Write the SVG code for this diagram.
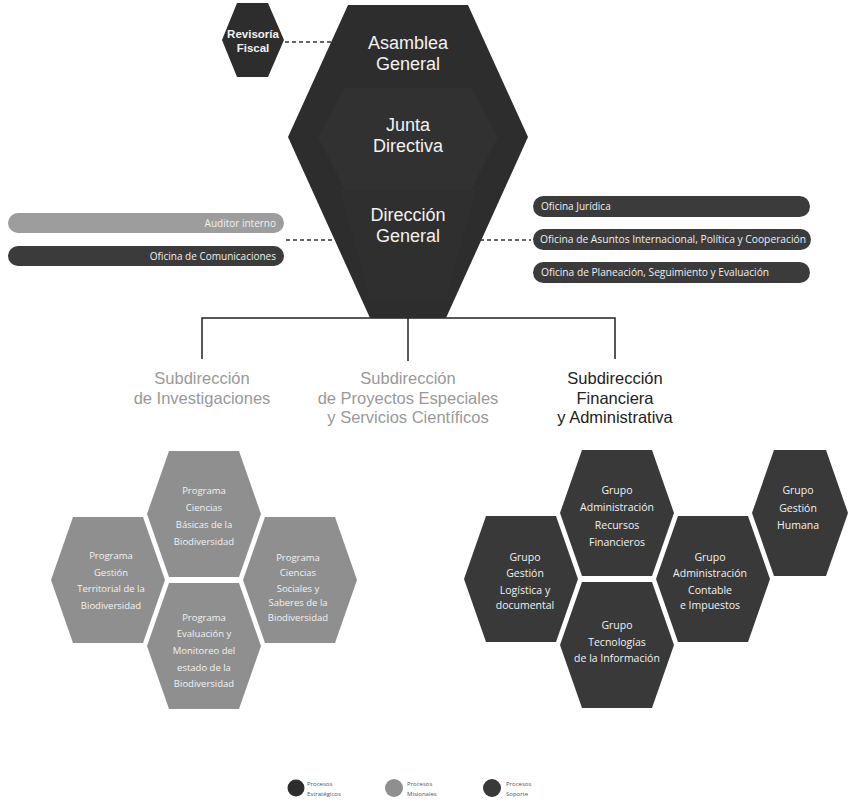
<svg xmlns="http://www.w3.org/2000/svg" width="848" height="805" viewBox="0 0 848 805">
<style>
.bg{fill:#ffffff}
.strat{fill:#2d2d2d}
.mis{fill:#8f8f8f}
.sop{fill:#393939}
.big{font-family:"Liberation Sans","Arial",sans-serif;font-size:18px;fill:#f2f2f2;text-anchor:middle}
.rev{font-family:"Liberation Sans","Arial",sans-serif;font-size:11.5px;font-weight:bold;fill:#f2f2f2;text-anchor:middle}
.bar{font-family:"Open Sans","Liberation Sans",sans-serif;font-size:10px;fill:#f0f0f0}
.sub{font-family:"Liberation Sans","Arial",sans-serif;font-size:16.5px;text-anchor:middle}
.ht{font-family:"Open Sans","Liberation Sans",sans-serif;font-size:9.5px;fill:#f2f2f2;text-anchor:middle}
.gt{font-family:"Open Sans","Liberation Sans",sans-serif;font-size:10.5px;fill:#f2f2f2;text-anchor:middle}
.leg{font-family:"Open Sans","Liberation Sans",sans-serif;font-size:6px;fill:#555}
.dash{stroke:#333;stroke-width:1.5;stroke-dasharray:4 3;fill:none}
.conn{stroke:#222;stroke-width:1.5;fill:none}
</style>
<rect class="bg" x="0" y="0" width="848" height="805"/>

<g id="connectors">
  <line class="dash" x1="285" y1="42" x2="332" y2="42"/>
  <line class="dash" x1="286" y1="240" x2="335" y2="240"/>
  <line class="dash" x1="480" y1="240" x2="531" y2="240"/>
  <polyline class="conn" points="202,359 202,318 615,318 615,359"/>
  <line class="conn" x1="408" y1="318" x2="408" y2="361"/>
</g>

<g id="gobierno">
  <polygon class="strat" points="348,5 468,5 528,137 446,318 370,318 288,137"/>
  <polygon fill="#313131" points="345,88 471,88 498,137 471,190 345,190 318,137"/>
  <polygon fill="#2f2f2f" points="340,190 476,190 446,300 370,300"/>
  <text class="big" x="408" y="49">Asamblea</text>
  <text class="big" x="408" y="70">General</text>
  <text class="big" x="408" y="131">Junta</text>
  <text class="big" x="408" y="152">Directiva</text>
  <text class="big" x="408" y="221">Dirección</text>
  <text class="big" x="408" y="242">General</text>
</g>

<g id="revisoria">
  <polygon class="strat" points="222,40 237,3 268,3 284,40 268,77 237,77"/>
  <text class="rev" x="253" y="38">Revisoría</text>
  <text class="rev" x="253" y="52">Fiscal</text>
</g>

<g id="auditor">
  <rect x="8" y="213" width="276" height="20" rx="10" fill="#9d9d9d"/>
  <text class="bar" x="276" y="227" text-anchor="end">Auditor interno</text>
</g>
<g id="comunicaciones">
  <rect x="8" y="246" width="276" height="20" rx="10" fill="#3b3b3b"/>
  <text class="bar" x="276" y="260" text-anchor="end">Oficina de Comunicaciones</text>
</g>

<g id="juridica">
  <rect x="533" y="196" width="277" height="21" rx="10.5" fill="#3b3b3b"/>
  <text class="bar" x="541" y="210">Oficina Jurídica</text>
</g>
<g id="asuntos">
  <rect x="533" y="229" width="278" height="21" rx="10.5" fill="#3b3b3b"/>
  <text class="bar" x="540" y="243" textLength="266" lengthAdjust="spacingAndGlyphs">Oficina de Asuntos Internacional, Política y Cooperación</text>
</g>
<g id="planeacion">
  <rect x="533" y="262" width="277" height="21" rx="10.5" fill="#3b3b3b"/>
  <text class="bar" x="541" y="276" textLength="228" lengthAdjust="spacingAndGlyphs">Oficina de Planeación, Seguimiento y Evaluación</text>
</g>

<g id="sub-investigaciones">
  <text class="sub" x="202" y="384" fill="#999">Subdirección</text>
  <text class="sub" x="202" y="403.5" fill="#999">de Investigaciones</text>
</g>
<g id="sub-proyectos">
  <text class="sub" x="408" y="384" fill="#999">Subdirección</text>
  <text class="sub" x="408" y="403.5" fill="#999">de Proyectos Especiales</text>
  <text class="sub" x="408" y="423" fill="#999">y Servicios Científicos</text>
</g>
<g id="sub-financiera">
  <text class="sub" x="615" y="384" fill="#222">Subdirección</text>
  <text class="sub" x="615" y="403.5" fill="#222">Financiera</text>
  <text class="sub" x="615" y="423" fill="#222">y Administrativa</text>
</g>

<g id="prog-basicas">
  <polygon class="mis" points="147,514 169,451 239,451 261,514 239,577 169,577"/>
  <text class="ht" x="204" y="494">Programa</text>
  <text class="ht" x="204" y="511">Ciencias</text>
  <text class="ht" x="204" y="528">Básicas de la</text>
  <text class="ht" x="204" y="545">Biodiversidad</text>
</g>
<g id="prog-territorial">
  <polygon class="mis" points="51,580 73,517 143,517 165,580 143,643 73,643"/>
  <text class="ht" x="111" y="559">Programa</text>
  <text class="ht" x="111" y="576">Gestión</text>
  <text class="ht" x="111" y="592">Territorial de la</text>
  <text class="ht" x="111" y="609">Biodiversidad</text>
</g>
<g id="prog-sociales">
  <polygon class="mis" points="243,580 265,517 335,517 357,580 335,643 265,643"/>
  <text class="ht" x="298" y="561">Programa</text>
  <text class="ht" x="298" y="576">Ciencias</text>
  <text class="ht" x="298" y="592">Sociales y</text>
  <text class="ht" x="298" y="606">Saberes de la</text>
  <text class="ht" x="298" y="621">Biodiversidad</text>
</g>
<g id="prog-evaluacion">
  <polygon class="mis" points="147,646 169,583 239,583 261,646 239,709 169,709"/>
  <text class="ht" x="204" y="621">Programa</text>
  <text class="ht" x="204" y="637">Evaluación y</text>
  <text class="ht" x="204" y="654">Monitoreo del</text>
  <text class="ht" x="204" y="671">estado de la</text>
  <text class="ht" x="204" y="687">Biodiversidad</text>
</g>

<g id="grupo-recursos">
  <polygon class="sop" points="560,513 582,450 652,450 674,513 652,576 582,576"/>
  <text class="gt" x="617" y="494">Grupo</text>
  <text class="gt" x="617" y="511">Administración</text>
  <text class="gt" x="617" y="529">Recursos</text>
  <text class="gt" x="617" y="546">Financieros</text>
</g>
<g id="grupo-logistica">
  <polygon class="sop" points="464,579 486,516 556,516 578,579 556,642 486,642"/>
  <text class="gt" x="525" y="561">Grupo</text>
  <text class="gt" x="525" y="577">Gestión</text>
  <text class="gt" x="525" y="594">Logística y</text>
  <text class="gt" x="525" y="609">documental</text>
</g>
<g id="grupo-tecnologias">
  <polygon class="sop" points="560,645 582,582 652,582 674,645 652,708 582,708"/>
  <text class="gt" x="617" y="629">Grupo</text>
  <text class="gt" x="617" y="646">Tecnologías</text>
  <text class="gt" x="617" y="662">de la Información</text>
</g>
<g id="grupo-contable">
  <polygon class="sop" points="656,579 678,516 748,516 770,579 748,642 678,642"/>
  <text class="gt" x="710" y="561">Grupo</text>
  <text class="gt" x="710" y="577">Administración</text>
  <text class="gt" x="710" y="594">Contable</text>
  <text class="gt" x="710" y="609">e Impuestos</text>
</g>
<g id="grupo-humana">
  <polygon class="sop" points="752,513 774,450 826,450 848,513 826,576 774,576"/>
  <text class="gt" x="798" y="494">Grupo</text>
  <text class="gt" x="798" y="512">Gestión</text>
  <text class="gt" x="798" y="529">Humana</text>
</g>

<g id="legend">
  <circle cx="296" cy="788" r="8.5" fill="#2d2d2d"/>
  <text class="leg" x="307" y="786">Procesos</text>
  <text class="leg" x="307" y="796">Estratégicos</text>
  <circle cx="394" cy="788" r="9" fill="#8f8f8f"/>
  <text class="leg" x="407" y="786">Procesos</text>
  <text class="leg" x="407" y="796">Misionales</text>
  <circle cx="492" cy="788" r="9" fill="#393939"/>
  <text class="leg" x="506" y="786">Procesos</text>
  <text class="leg" x="506" y="796">Soporte</text>
</g>
</svg>
